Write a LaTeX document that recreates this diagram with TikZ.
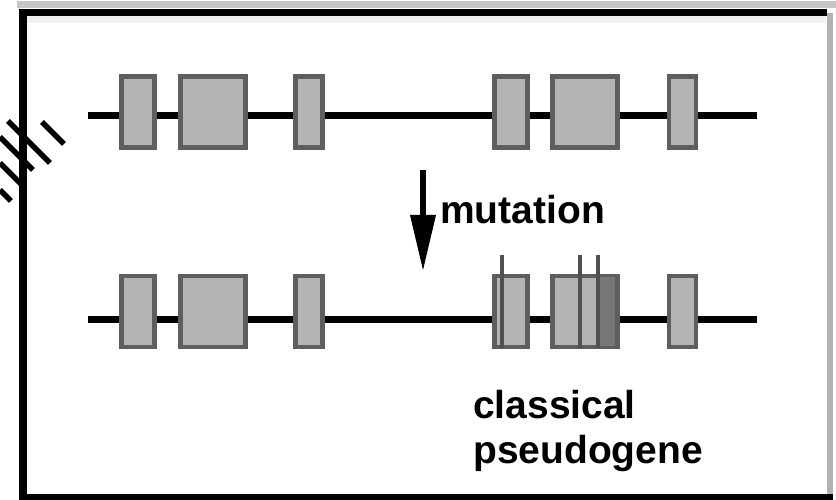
\documentclass[tikz,border=0pt]{standalone}
\usepackage{fontspec}
\setmainfont{Liberation Sans}
\begin{document}
\begin{tikzpicture}[x=1pt,y=-1pt,
  exon/.style={draw=exonedge, fill=exonfill, line width=4.5pt, inner sep=0pt, minimum height=71pt},
  gene/.style={line width=7pt, black},
  hatch/.style={line width=5.5pt, black},
  mut/.style={line width=3.5pt, mutcol},
  lbl/.style={font=\fontsize{39}{45}\selectfont\bfseries, inner sep=0pt, anchor=base west}]
\definecolor{exonfill}{HTML}{B4B4B4}
\definecolor{exonedge}{HTML}{5E5E5E}
\definecolor{mutcol}{HTML}{505050}
\useasboundingbox (0,0) rectangle (836,500);
% frame
\fill[gray!12] (27,16) rectangle (826,23);
\draw[line width=7pt, gray!45] (17,5) -- (836,5);
\draw[line width=6pt, gray!60] (830,13) -- (830,500);
\draw[line width=7pt] (19,13) -- (827,13);
\draw[line width=8pt] (23,9) -- (23,500);
\draw[line width=7pt] (19,497) -- (833,497);
% hatching at left
\draw[hatch] (42,122) -- (64,144);
\draw[hatch] (8,121) -- (50,163);
\draw[hatch] (0,137) -- (33,170);
\draw[hatch] (0,163) -- (23,186);
\draw[hatch] (0,190) -- (11,201);
% top gene
\coordinate (ta) at (88,116);
\coordinate (tb) at (757,116);
\draw[gene] (ta) -- (tb);
\node[exon, minimum width=33pt] (t1) at (138,112) {};
\node[exon, minimum width=65pt] (t2) at (213,112) {};
\node[exon, minimum width=27pt] (t3) at (309,112) {};
\node[exon, minimum width=33pt] (t4) at (511,112) {};
\node[exon, minimum width=65pt] (t5) at (585,112) {};
\node[exon, minimum width=27pt] (t6) at (682.5,112) {};
% arrow
\coordinate (aa) at (423,170);
\coordinate (ab) at (423,217);
\coordinate (ac) at (423,270);
\draw[line width=6pt] (aa) -- (ab);
\fill (410,215) -- (436,215) -- (ac) -- cycle;
\node[lbl] (mutlab) at (440,223) {mutation};
% bottom gene
\coordinate (ba) at (88,319);
\coordinate (bb) at (757,319);
\draw[gene] (ba) -- (bb);
\node[exon, minimum width=33pt] (b1) at (138,311.5) {};
\node[exon, minimum width=65pt] (b2) at (213,311.5) {};
\node[exon, minimum width=27pt] (b3) at (309,311.5) {};
\node[exon, minimum width=33pt] (b4) at (511,311.5) {};
\node[exon, minimum width=65pt] (b5) at (585,311.5) {};
\node[exon, minimum width=27pt] (b6) at (682.5,311.5) {};
% mutations
\coordinate (m1t) at (502,255);
\coordinate (m1b) at (502,348);
\coordinate (m2t) at (580,255);
\coordinate (m2b) at (580,348);
\coordinate (m3t) at (598,255);
\coordinate (m3b) at (598,348);
\fill[exonedge!85] (600,277) rectangle (615,346);
\draw[mut] (m1t) -- (m1b);
\draw[mut] (m2t) -- (m2b);
\draw[mut] (m3t) -- (m3b);
% labels
\node[lbl] (cls) at (473,418) {classical};
\node[lbl] (psg) at (473,463) {pseudogene};
\end{tikzpicture}
\end{document}
